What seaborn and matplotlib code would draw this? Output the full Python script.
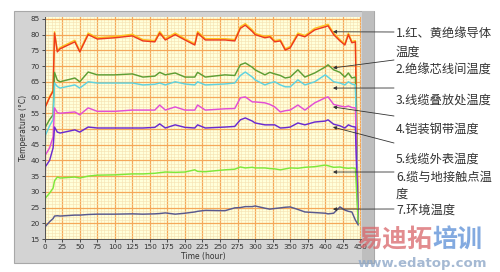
import matplotlib
matplotlib.use("Agg")
import matplotlib.pyplot as plt
from matplotlib.patches import Rectangle
from matplotlib.ticker import MultipleLocator
import seaborn as sns
import pandas as pd

hours = [0, 1, 7, 12, 14, 18, 22, 43, 50, 62, 75, 100, 125, 140, 157, 164, 172, 186,
         200, 214, 218, 229, 257, 271, 279, 286, 296, 300, 314, 321, 328, 336, 343,
         350, 361, 371, 385, 400, 404, 412, 421, 428, 433, 438, 443, 447]

red = [17, 57, 60, 62, 80.5, 74.5, 75.5, 77.7, 74.5, 80, 78.6, 79, 79.6, 78, 77.7, 80.5, 78.3, 80,
       78.3, 76.7, 80.5, 78.3, 78.3, 78, 82, 83, 81, 80, 79, 79.3, 77.7, 78, 75.1,
       75.8, 80, 79.3, 81.5, 82.5, 82.8, 80, 78, 76.7, 80, 77.4, 77.7, 20]
yellow = [17, 57.3, 60.3, 62.4, 80.9, 74.9, 75.9, 78.2, 74.9, 80.5, 79.0, 79.4, 80.1, 78.4, 78.1, 81.0, 78.7, 80.5,
          78.7, 77.1, 81.0, 78.7, 78.7, 78.4, 82.5, 83.5, 81.5, 80.4, 79.4, 79.7, 78.1, 78.4, 75.5,
          76.2, 80.5, 79.7, 82.0, 83.0, 83.3, 80.5, 78.4, 77.1, 80.5, 77.8, 78.1, 20]
green = [17, 50.6, 53, 54.5, 68, 65.5, 65, 66.2, 65, 68.1, 67.2, 67.2, 67.5, 66.5, 66.8, 68, 67.2, 67.8,
         66.5, 66.5, 68, 66.5, 67.2, 67, 70.4, 71, 69.6, 68.8, 67.2, 68, 67.5, 67, 66.2,
         66.5, 68.8, 66.5, 67.8, 69.7, 70.4, 68.8, 68, 66.5, 67.8, 66.2, 66.5, 20]
cyan = [17, 48, 51, 53, 64.6, 63.5, 63, 64, 63, 65, 64.6, 64.6, 64.6, 64, 64.2, 64.6, 64, 65,
        64.3, 64, 65, 64, 64.3, 64.6, 67, 68.1, 66.5, 65.6, 64, 64.6, 65, 64, 63.4,
        63.4, 65.6, 64, 65, 67.2, 66.5, 65, 64.6, 64, 65, 64.3, 64, 20]
magenta = [17, 41.7, 44, 47.5, 56.7, 55.2, 55, 55.4, 54.5, 56.7, 55.6, 55.6, 56, 56, 56, 57.6, 56, 57,
           56, 56, 57.6, 56, 56.4, 56.5, 59.9, 60.2, 58.6, 58.6, 58.3, 57.8, 57, 55.4, 55.8,
           56, 57.6, 56, 58.3, 59.9, 60.2, 57.8, 57.3, 57, 57.3, 56.8, 56.7, 20]
purple = [17, 38, 40, 44, 50.6, 49, 48.7, 49.7, 49, 50.6, 50.3, 50.3, 50.3, 50.3, 50.5, 51.6, 50.3, 51.3,
          50.5, 50.3, 51.3, 50.3, 50.6, 50.8, 52.9, 53.5, 52.5, 51.9, 51.3, 51.3, 51.3, 50.3, 50.4,
          50.6, 51.9, 51.3, 52.2, 52.5, 52.9, 51.5, 51, 50.3, 51.3, 50.8, 50.6, 20]
lime = [17, 28, 29.6, 31.2, 33.5, 34.7, 34.4, 34.7, 34.4, 35, 35.3, 35.4, 35.7, 35.7, 35.9, 36.1, 36.3, 36.2,
        36.3, 37, 36.5, 36.4, 37, 37.2, 37.9, 37.6, 37.8, 37.6, 37.6, 37.4, 37.3, 37, 37.3,
        37.6, 37.5, 37.8, 38, 38.5, 38.3, 37.8, 37.9, 37.6, 37.5, 37.6, 37.5, 20]
ambient = [16.3, 19, 20.5, 21.5, 22.3, 22.4, 22.3, 22.6, 22.6, 22.8, 22.9, 22.9, 23, 22.9, 23, 23.1, 23.3, 22.9,
           23.2, 23.6, 23.8, 24.1, 24, 24.9, 25, 25.3, 25.3, 25.5, 24.8, 24.5, 24.7, 24.9, 25.1,
           25.2, 24.4, 23.6, 23.4, 23.2, 23, 23.2, 25.2, 24.2, 23.8, 23.6, 21, 19.5]

series_names = ["yellow", "red", "green", "cyan", "magenta", "purple", "lime", "ambient"]
series_vals = [yellow, red, green, cyan, magenta, purple, lime, ambient]
palette = {"yellow": "#FFC21E", "red": "#EE3A1C", "green": "#5E9E34", "cyan": "#5FD3E0",
           "magenta": "#E24ED6", "purple": "#6A2BD0", "lime": "#7EE83A", "ambient": "#58598E"}

labels = [("1.红、黄绝缘导体", 33), ("温度", 52), ("2.绝缘芯线间温度", 70), ("3.线缆叠放处温度", 100),
          ("4.铠装钢带温度", 129), ("5.线缆外表温度", 159), ("6.缆与地接触点温", 177), ("度", 194),
          ("7.环境温度", 210)]
arrow_targets = [80.9, 69.4, 63.0, 57.0, 50.6, 36.3, 24.5]
arrow_text_y = [32, 60, 88, 116, 143, 172, 209]
arrow_hour = 411

rows = []
for name, vals in zip(series_names, series_vals):
    for h, v in zip(hours, vals):
        rows.append({"hour": h, "temp": v, "series": name})
df = pd.DataFrame(rows)

W, H = 500, 272
fig = plt.figure(figsize=(5, 2.72), dpi=100)
fig.patch.set_facecolor("white")

def fx(x):
    return x / W

def fy(y):
    return 1 - y / H

bg = fig.add_axes([0, 0, 1, 1], zorder=0)
bg.set_xlim(0, W)
bg.set_ylim(H, 0)
bg.axis("off")
bg.add_patch(Rectangle((14, 11), 360, 252, facecolor="#D3D3D3", edgecolor="#A8A8A8", lw=0.8))
bg.add_patch(Rectangle((362, 11), 12, 252, facecolor="#BEBEBE", edgecolor="none"))

ax = fig.add_axes([fx(44.7), fy(239), (361 - 44.7) / W, (239 - 17) / H], zorder=2)
ax.set_facecolor("#FFFFDA")

sns.lineplot(data=df, x="hour", y="temp", hue="series", palette=palette,
             hue_order=series_names, ax=ax, legend=False, linewidth=1.05, sort=True)

ax.set_xlim(0, 451)
ax.set_ylim(15, 85.6)
ax.xaxis.set_major_locator(MultipleLocator(25))
ax.yaxis.set_major_locator(MultipleLocator(5))
ax.xaxis.set_minor_locator(MultipleLocator(5))
ax.yaxis.set_minor_locator(MultipleLocator(1))
ax.grid(which="major", color="#F5A85A", lw=0.9, zorder=0)
ax.grid(which="minor", color="#F6DFB0", lw=0.4, zorder=0)
ax.set_axisbelow(True)
ax.tick_params(which="major", labelsize=5.2, length=2, width=0.6, colors="#333333", pad=1.5)
ax.tick_params(which="minor", length=0)
for s in ["top", "right"]:
    ax.spines[s].set_visible(False)
for s in ["left", "bottom"]:
    ax.spines[s].set_color("#555555")
    ax.spines[s].set_linewidth(0.7)
ax.set_xlabel("Time (hour)", fontsize=5.5, color="#333333", labelpad=1.5)
ax.set_ylabel("Temperature (°C)", fontsize=5.5, color="#333333", labelpad=2)

cjk = ["Noto Sans CJK SC", "DejaVu Sans"]
for txt, y in labels:
    fig.text(fx(396), fy(y), txt, fontsize=8.8, family=cjk, color="#333333",
             va="center", ha="left", zorder=5)

for tgt, ty in zip(arrow_targets, arrow_text_y):
    ax.annotate("", xy=(arrow_hour, tgt), xycoords="data",
                xytext=(fx(394), fy(ty)), textcoords="figure fraction",
                arrowprops=dict(arrowstyle="-|>", color="#333333", lw=0.6,
                                mutation_scale=5, shrinkA=0, shrinkB=0),
                annotation_clip=False)

fig.text(fx(357), fy(240), "易迪拓", fontsize=18, family=cjk, weight="bold",
         color="#D9666A", alpha=0.75, va="center", ha="left", zorder=6)
fig.text(fx(432), fy(240), "培训", fontsize=18, family=cjk, weight="bold",
         color="#5A8ED6", alpha=0.75, va="center", ha="left", zorder=6)
fig.text(fx(358), fy(263), "www.edatop.com", fontsize=9.5, family=["DejaVu Sans"],
         weight="bold", color="#8FA8C8", alpha=0.8, va="center", ha="left", zorder=6)

fig.savefig("out.png", dpi=100)
